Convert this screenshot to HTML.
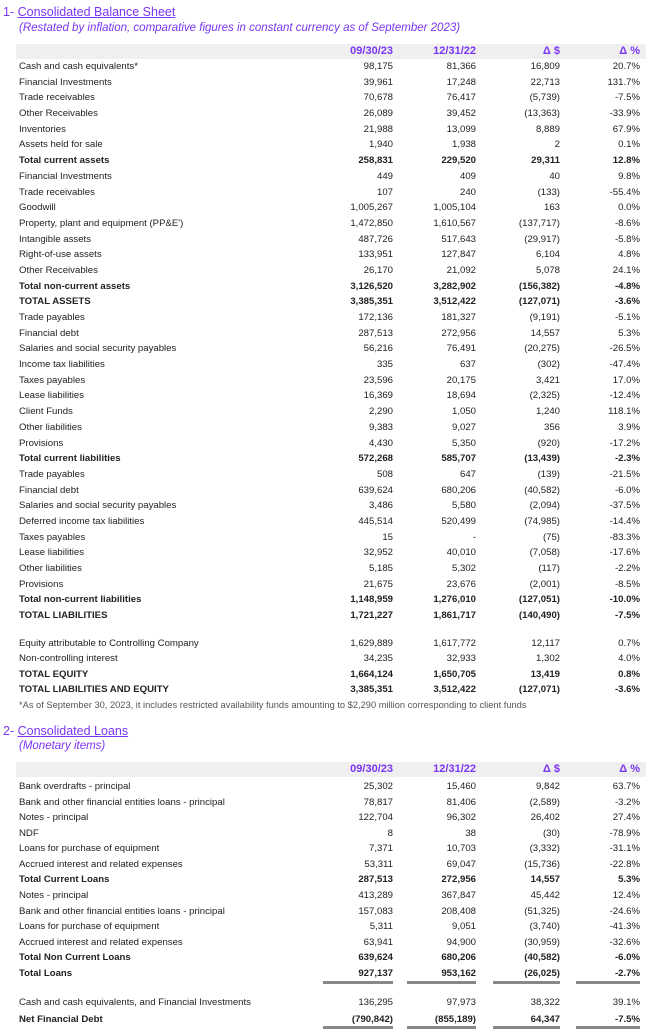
<!DOCTYPE html>
<html><head><meta charset="utf-8">
<style>
body{margin:0;width:646px;height:1034px;background:#fff;position:relative;overflow:hidden;font-family:"Liberation Sans",sans-serif;color:#222;}
.a{position:absolute;white-space:nowrap;font-size:9.6px;line-height:12px;}
.r{text-align:right;}
.b{font-weight:bold;}
.band{position:absolute;left:16px;width:630px;height:15px;background:#efefef;}
.h{color:#7b35f5;font-weight:bold;font-size:11px;}
.title{position:absolute;left:3px;font-size:12.5px;color:#7b35f5;white-space:nowrap;}
.title u{text-decoration:underline;}
.sub{position:absolute;left:19px;font-size:11.5px;color:#7b35f5;font-style:italic;white-space:nowrap;}
.ln{position:absolute;height:3px;background:#888;}
</style></head><body>
<div class="title" style="top:5px">1- <u>Consolidated Balance Sheet</u></div>
<div class="sub" style="top:22px">(Restated by inflation, comparative figures in constant currency as of September 2023)</div>
<div class="band" style="top:44px"></div>
<div class="title" style="top:724px">2- <u>Consolidated Loans</u></div>
<div class="sub" style="top:740px">(Monetary items)</div>
<div class="band" style="top:762px"></div>
<div class="a" style="left:19px;top:699px;color:#555;font-size:9.3px">*As of September 30, 2023, it includes restricted availability funds amounting to $2,290 million corresponding to client funds</div>
<script>
const cols=[393,476,560,640];
const hdr=["09/30/23","12/31/22","Δ $","Δ %"];
const bs=[
["Cash and cash equivalents*","98,175","81,366","16,809","20.7%",0],
["Financial Investments","39,961","17,248","22,713","131.7%",0],
["Trade receivables","70,678","76,417","(5,739)","-7.5%",0],
["Other Receivables","26,089","39,452","(13,363)","-33.9%",0],
["Inventories","21,988","13,099","8,889","67.9%",0],
["Assets held for sale","1,940","1,938","2","0.1%",0],
["Total current assets","258,831","229,520","29,311","12.8%",1],
["Financial Investments","449","409","40","9.8%",0],
["Trade receivables","107","240","(133)","-55.4%",0],
["Goodwill","1,005,267","1,005,104","163","0.0%",0],
["Property, plant and equipment (PP&E')","1,472,850","1,610,567","(137,717)","-8.6%",0],
["Intangible assets","487,726","517,643","(29,917)","-5.8%",0],
["Right-of-use assets","133,951","127,847","6,104","4.8%",0],
["Other Receivables","26,170","21,092","5,078","24.1%",0],
["Total non-current assets","3,126,520","3,282,902","(156,382)","-4.8%",1],
["TOTAL ASSETS","3,385,351","3,512,422","(127,071)","-3.6%",1],
["Trade payables","172,136","181,327","(9,191)","-5.1%",0],
["Financial debt","287,513","272,956","14,557","5.3%",0],
["Salaries and social security payables","56,216","76,491","(20,275)","-26.5%",0],
["Income tax liabilities","335","637","(302)","-47.4%",0],
["Taxes payables","23,596","20,175","3,421","17.0%",0],
["Lease liabilities","16,369","18,694","(2,325)","-12.4%",0],
["Client Funds","2,290","1,050","1,240","118.1%",0],
["Other liabilities","9,383","9,027","356","3.9%",0],
["Provisions","4,430","5,350","(920)","-17.2%",0],
["Total current liabilities","572,268","585,707","(13,439)","-2.3%",1],
["Trade payables","508","647","(139)","-21.5%",0],
["Financial debt","639,624","680,206","(40,582)","-6.0%",0],
["Salaries and social security payables","3,486","5,580","(2,094)","-37.5%",0],
["Deferred income tax liabilities","445,514","520,499","(74,985)","-14.4%",0],
["Taxes payables","15","-","(75)","-83.3%",0],
["Lease liabilities","32,952","40,010","(7,058)","-17.6%",0],
["Other liabilities","5,185","5,302","(117)","-2.2%",0],
["Provisions","21,675","23,676","(2,001)","-8.5%",0],
["Total non-current liabilities","1,148,959","1,276,010","(127,051)","-10.0%",1],
["TOTAL LIABILITIES","1,721,227","1,861,717","(140,490)","-7.5%",1]];
const eq=[
["Equity attributable to Controlling Company","1,629,889","1,617,772","12,117","0.7%",0],
["Non-controlling interest","34,235","32,933","1,302","4.0%",0],
["TOTAL EQUITY","1,664,124","1,650,705","13,419","0.8%",1],
["TOTAL LIABILITIES AND EQUITY","3,385,351","3,512,422","(127,071)","-3.6%",1]];
const ln=[
["Bank overdrafts - principal","25,302","15,460","9,842","63.7%",0],
["Bank and other financial entities loans - principal","78,817","81,406","(2,589)","-3.2%",0],
["Notes - principal","122,704","96,302","26,402","27.4%",0],
["NDF","8","38","(30)","-78.9%",0],
["Loans for purchase of equipment","7,371","10,703","(3,332)","-31.1%",0],
["Accrued interest and related expenses","53,311","69,047","(15,736)","-22.8%",0],
["Total Current Loans","287,513","272,956","14,557","5.3%",1],
["Notes - principal","413,289","367,847","45,442","12.4%",0],
["Bank and other financial entities loans - principal","157,083","208,408","(51,325)","-24.6%",0],
["Loans for purchase of equipment","5,311","9,051","(3,740)","-41.3%",0],
["Accrued interest and related expenses","63,941","94,900","(30,959)","-32.6%",0],
["Total Non Current Loans","639,624","680,206","(40,582)","-6.0%",1],
["Total Loans","927,137","953,162","(26,025)","-2.7%",1]];
const nd=[
["Cash and cash equivalents, and Financial Investments","136,295","97,973","38,322","39.1%",0],
["Net Financial Debt","(790,842)","(855,189)","64,347","-7.5%",1]];
function txt(t,x,y,cls,right){
  const d=document.createElement('div');
  d.className='a '+cls;
  d.textContent=t;
  if(right){d.style.right=(646-x)+'px';}else{d.style.left=x+'px';}
  d.style.top=y+'px';
  document.body.appendChild(d);
  return d;
}
function header(y){
  hdr.forEach((h,i)=>{
    const d=txt(h,cols[i],y,'h r',true);
    
    
  });
}
function rows(arr,y0,step){
  arr.forEach((r,k)=>{
    const y=y0+k*step;
    const l=txt(r[0],19,y,r[5]?'b':'',false);
    
    
    for(let i=0;i<4;i++){
      const v=txt(r[i+1],cols[i],y,'r'+(r[5]?' b':''),true);
      
      
    }
  });
}
function uline(y){
  [[323,393],[407,476],[493,560],[576,640]].forEach(s=>{
    const d=document.createElement('div');
    d.className='ln';
    d.style.left=s[0]+'px';d.style.width=(s[1]-s[0])+'px';d.style.top=y+'px';
    
    
    document.body.appendChild(d);
  });
}
header(45);
rows(bs,61,15.69);
rows(eq,638,15.4);
header(763);
rows(ln,781,15.58);
rows(nd,997,17);
uline(981);uline(1026);
</script>
</body></html>
